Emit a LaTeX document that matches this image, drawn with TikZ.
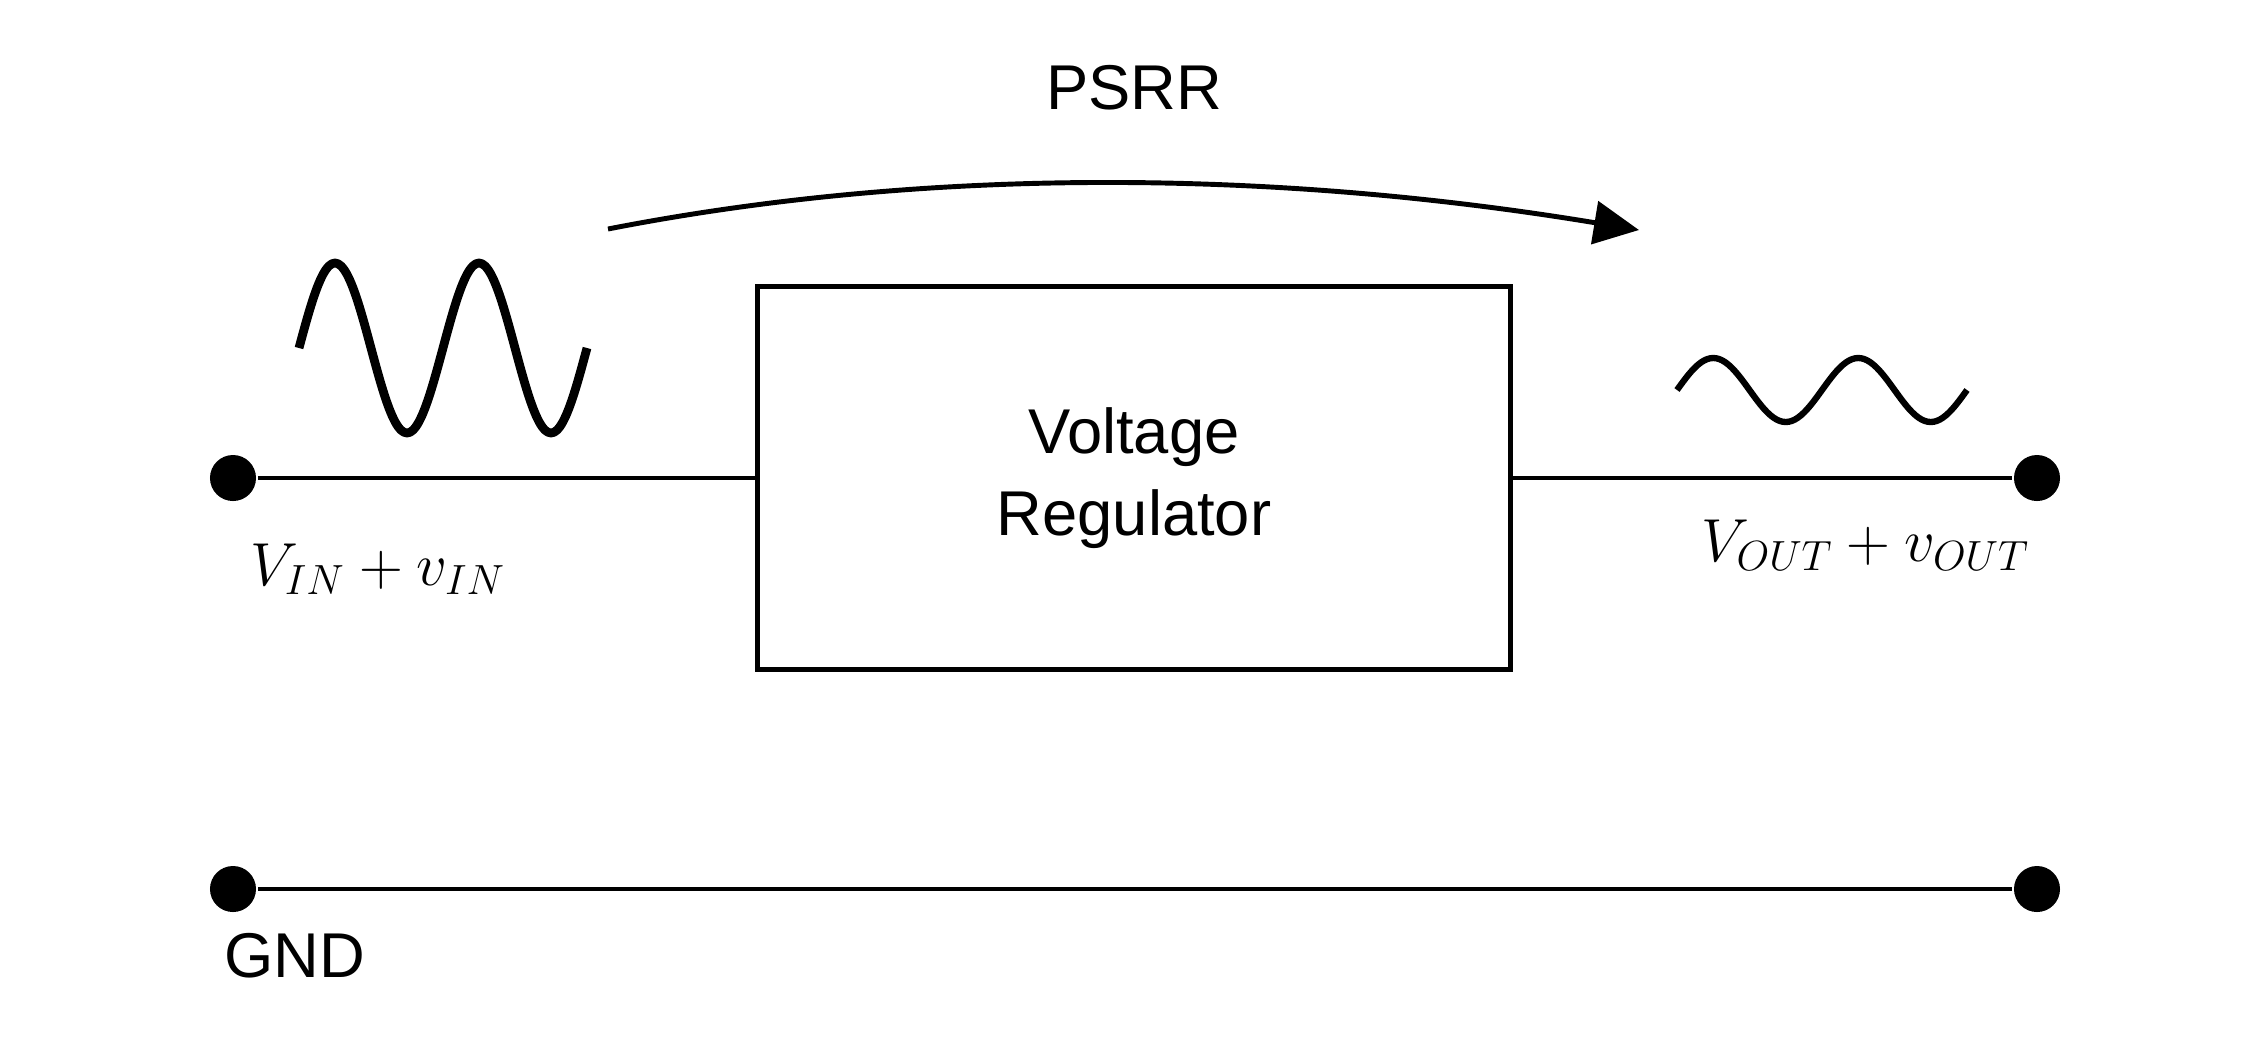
\documentclass[tikz,border=0pt]{standalone}
\usepackage{fontspec}
\setmainfont{Liberation Sans}
\usetikzlibrary{positioning,arrows.meta}

\begin{document}
\begin{tikzpicture}[x=0.01cm, y=-0.01cm, line width=1.4pt, font=\fontsize{18}{23.3}\selectfont,
		dot/.style={circle, fill, inner sep=0, minimum size=0.46cm},
		reg/.style={draw, rectangle, minimum width=7.53cm, minimum height=3.82cm, align=center},
		lbl/.style={inner sep=0},
		wave/.style={line width=2.5pt, line join=round}]
		\useasboundingbox (0,0) rectangle (2259,1038);

		\node[dot] (VIN) at (233,478) {};
		\node[dot] (VOUT) at (2037,478) {};
		\node[dot] (GNDL) at (233,889) {};
		\node[dot] (GNDR) at (2037,889) {};
		\node[reg] (R) at (1134,478) {Voltage\\Regulator};
		\node[lbl, above=1.72cm of R] (PSRR) {PSRR};
		\node[lbl, below=0.38cm of VIN, xshift=1.45cm] (VIN_label) {$V_{IN}+v_{IN}$};
		\node[lbl, below=0.14cm of VOUT, xshift=-1.71cm] (VOUT_label) {$V_{OUT}+v_{OUT}$};
		\node[lbl, below=0.16cm of GNDL, xshift=0.62cm] (GND_label) {GND};

		\draw (VIN) -- (R);
		\draw (R) -- (VOUT);
		\draw (GNDL) -- (GNDR);

		% rejection arrow over the regulator
		\coordinate (A_start) at (608,229);
		\coordinate (A_end) at (1639,230);
		\draw[-{Triangle[length=12.8pt,width=12.2pt]}] (A_start) .. controls (920,168) and (1264,168) .. (A_end);

		% ripple in and out
		\draw[wave] plot[domain=0:288, samples=97, smooth] ({299+\x},{348-85*sin(2.5*\x)});
		\draw[wave, line width=1.8pt] plot[domain=0:290, samples=97, smooth] ({1677+\x},{390-32*sin(2.4828*\x)});
	\end{tikzpicture}
\end{document}
